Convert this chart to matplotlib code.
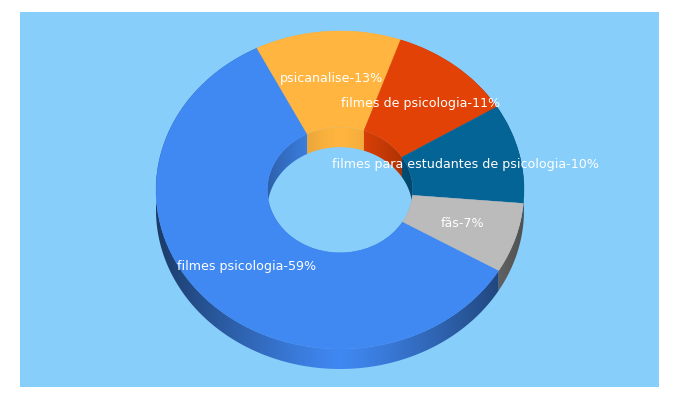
import numpy as np
import matplotlib
matplotlib.use("Agg")
import matplotlib.pyplot as plt
from matplotlib.patches import Polygon
from matplotlib.colors import to_rgb

# slices, clockwise from the lower right
names = ["filmes psicologia", "psicanalise", "filmes de psicologia",
         "filmes para estudantes de psicologia", "fãs"]
values = [59.1, 12.8, 10.9, 10.1, 7.1]
percents = [59, 13, 11, 10, 7]
colors = ["#4088f2", "#ffb53f", "#e24206", "#056496", "#bbbbbb"]
background = "#87cefa"

W, H = 680, 400
cx, cy = 340, 190      # middle of the top face, pixels
rx, ry = 184, 159      # outer radii, pixels
hole = 0.395           # hole radius as part of the outer radius
depth = 20 / ry        # wall height in axes units
start = -30.4


def wall(ax, a0, a1, radius, color, strength, power):
    # wall under one slice: band between an arc and the same arc moved down
    t = np.radians(np.linspace(a0, a1, 200))
    x = radius * np.cos(t)
    y = radius * np.sin(t)
    verts = np.column_stack([np.r_[x, x[::-1]], np.r_[y, y[::-1] - depth]])
    # darker towards the sides
    u = np.linspace(-1, 1, 401)
    shade = 1 - strength * np.abs(u) ** power
    img = shade[None, :, None] * np.array(to_rgb(color))[None, None, :]
    im = ax.imshow(img, extent=(-radius, radius, -radius - depth, radius),
                   aspect="auto", interpolation="bilinear")
    im.set_clip_path(Polygon(verts, transform=ax.transData))


fig = plt.figure(figsize=(W / 100, H / 100), dpi=100, facecolor="white")
ax = fig.add_axes([20 / W, (H - 387) / H, 639 / W, 375 / H])

labels = [f"{n}-{p}%" for n, p in zip(names, percents)]
wedges, texts = ax.pie(values, labels=labels, colors=colors, startangle=start,
                       counterclock=False, labeldistance=0.7, frame=True,
                       wedgeprops={"width": 1 - hole, "linewidth": 0.3},
                       textprops={"color": "white", "fontsize": 9.1,
                                  "family": "DejaVu Sans"})
for w, c in zip(wedges, colors):
    w.set_edgecolor(c)
for t in texts:
    t.set_ha("center")
    t.set_va("center")
    t.set_zorder(5)

# walls, using the angles the pie worked out
for w, c in zip(wedges, colors):
    wall(ax, w.theta1, w.theta2, 1.0, c, 0.57, 1.2)
    wall(ax, w.theta1, w.theta2, hole, c, 0.30, 1.6)

ax.set_aspect("auto")
ax.set_xlim((20 - cx) / rx, (659 - cx) / rx)
ax.set_ylim((cy - 387) / ry, (cy - 12) / ry)
ax.set_facecolor(background)
for s in ax.spines.values():
    s.set_visible(False)
ax.set_xticks([])
ax.set_yticks([])

fig.savefig("out.png", dpi=100, facecolor="white")
